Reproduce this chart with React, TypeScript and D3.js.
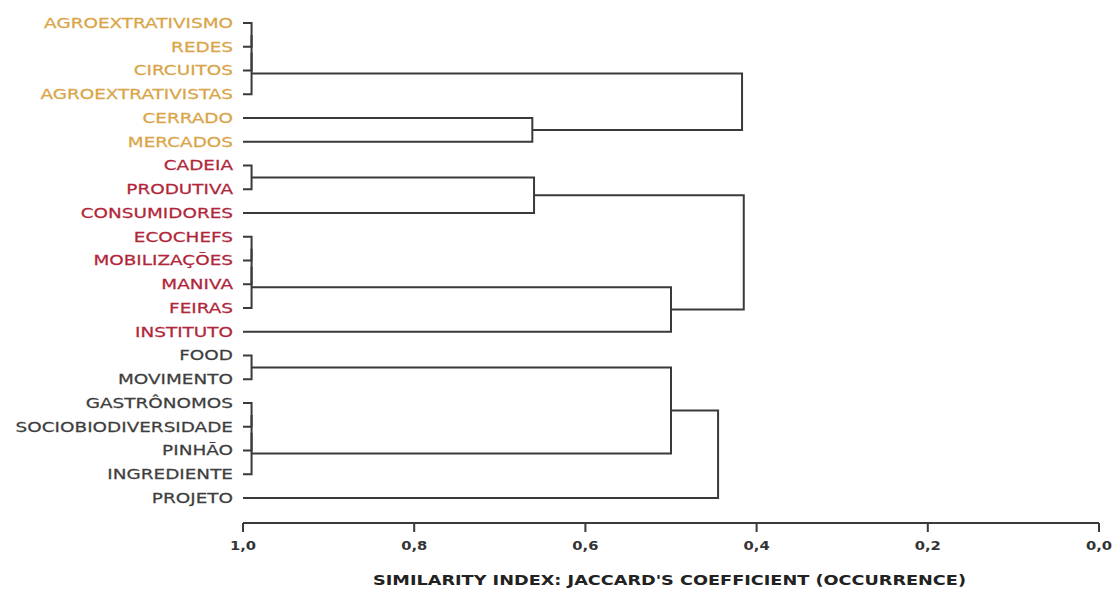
import React from "react";
import * as d3 from "d3";

const labels = [
  "AGROEXTRATIVISMO", "REDES", "CIRCUITOS", "AGROEXTRATIVISTAS", "CERRADO", "MERCADOS",
  "CADEIA", "PRODUTIVA", "CONSUMIDORES", "ECOCHEFS", "MOBILIZAÇÕES", "MANIVA", "FEIRAS", "INSTITUTO",
  "FOOD", "MOVIMENTO", "GASTRÔNOMOS", "SOCIOBIODIVERSIDADE", "PINHÃO", "INGREDIENTE", "PROJETO",
];
const groups = [
  0, 0, 0, 0, 0, 0,
  1, 1, 1, 1, 1, 1, 1, 1,
  2, 2, 2, 2, 2, 2, 2,
];
// linkage: [childA, childB, similarity]; new node ids start at labels.length
const merges: [number, number, number][] = [
  [0, 1, 0.99],
  [21, 2, 0.99],
  [22, 3, 0.99],
  [4, 5, 0.662],
  [23, 24, 0.417],
  [6, 7, 0.99],
  [26, 8, 0.66],
  [9, 10, 0.99],
  [28, 11, 0.99],
  [29, 12, 0.99],
  [30, 13, 0.5],
  [27, 31, 0.415],
  [14, 15, 0.99],
  [16, 17, 0.99],
  [34, 18, 0.99],
  [35, 19, 0.99],
  [33, 36, 0.5],
  [37, 20, 0.445],
];
const ticks = [1.0, 0.8, 0.6, 0.4, 0.2, 0.0];
const xTitle = "SIMILARITY INDEX: JACCARD'S COEFFICIENT (OCCURRENCE)";

const groupColors = ["#D9A548", "#B1263A", "#3E3E3E"];
const lineColor = "#3a3a3a";

export default function App() {
  const W = 1116, H = 591;
  const x = d3.scaleLinear().domain([1, 0]).range([243, 1099]);
  const y = d3.scaleLinear().domain([0, labels.length - 1]).range([23, 498]);

  const nodeY: number[] = labels.map((_, i) => y(i));
  const nodeX: number[] = labels.map(() => x(1));
  const paths: string[] = [];
  merges.forEach(([a, b, s]) => {
    const xm = x(s);
    const ya = nodeY[a], yb = nodeY[b];
    const p = d3.path();
    p.moveTo(nodeX[a], ya);
    p.lineTo(xm, ya);
    p.lineTo(xm, yb);
    p.lineTo(nodeX[b], yb);
    paths.push(p.toString());
    nodeY.push((ya + yb) / 2);
    nodeX.push(xm);
  });

  const axisY = 523;
  const fmt = (v: number) => d3.format(".1f")(v).replace(".", ",");

  return (
    <svg width={W} height={H} style={{ position: "absolute", left: 0, top: 0, background: "#fff" }}
      fontFamily="'DejaVu Sans', Verdana, sans-serif">
      {labels.map((l, i) => (
        <g key={l} transform={`translate(233,${y(i)}) scale(1.27,1)`}>
          <text textAnchor="end" dominantBaseline="central" fontSize={14.5} fill={groupColors[groups[i]]}
            stroke={groupColors[groups[i]]} strokeWidth={0.25}>{l}</text>
        </g>
      ))}
      {paths.map((d, i) => (
        <path key={i} d={d} fill="none" stroke={lineColor} strokeWidth={2} />
      ))}
      <line x1={x(1)} x2={x(0)} y1={axisY} y2={axisY} stroke={lineColor} strokeWidth={2} />
      {ticks.map((t) => (
        <g key={t} transform={`translate(${x(t)},0)`}>
          <line y1={axisY} y2={axisY + 9} stroke={lineColor} strokeWidth={2} />
          <g transform={`translate(0,${axisY + 27}) scale(1.18,1)`}>
            <text textAnchor="middle" fontSize={12.5} fontWeight="bold" fill="#333">{fmt(t)}</text>
          </g>
        </g>
      ))}
      <text x={373} y={585} fontSize={14} fontWeight="bold" fill="#222" textLength={593}
        lengthAdjust="spacingAndGlyphs">{xTitle}</text>
    </svg>
  );
}
